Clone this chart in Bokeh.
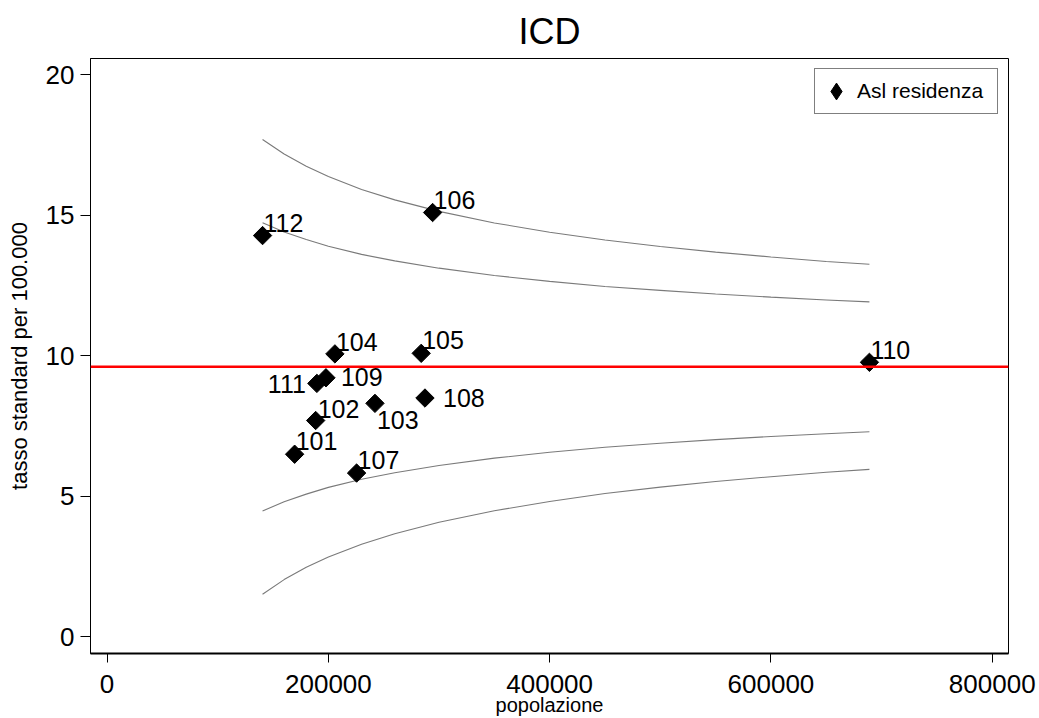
import numpy as np
from bokeh.plotting import figure
from bokeh.models import (Range1d, FixedTicker, NumeralTickFormatter, Span,
                          Legend, LegendItem, ColumnDataSource)
from bokeh.core.properties import value
from bokeh.embed import file_html
from bokeh.resources import INLINE

# ---------------- data ----------------
asl = ["101", "102", "103", "104", "105", "106", "107", "108", "109", "110", "111", "112"]
popolazione = [169500, 188500, 242100, 205900, 283900, 294200, 225500, 287300, 197800, 689000, 189600, 140500]
tasso = [6.49, 7.69, 8.30, 10.06, 10.08, 15.09, 5.82, 8.49, 9.21, 9.76, 9.01, 14.27]

media = 9.6  # red reference line

# funnel limits
pop_grid = [140500, 160000, 180000, 200000, 230000, 260000, 300000, 350000,
            400000, 450000, 500000, 550000, 600000, 650000, 689000]
lim_sup_998 = [17.69, 17.17, 16.74, 16.37, 15.91, 15.54, 15.13, 14.72, 14.39, 14.11, 13.88, 13.68, 13.51, 13.35, 13.25]
lim_sup_95 = [14.73, 14.40, 14.13, 13.89, 13.60, 13.37, 13.11, 12.85, 12.64, 12.46, 12.32, 12.19, 12.08, 11.98, 11.91]
lim_inf_95 = [4.47, 4.80, 5.07, 5.31, 5.60, 5.83, 6.09, 6.35, 6.56, 6.74, 6.88, 7.01, 7.12, 7.22, 7.29]
lim_inf_998 = [1.51, 2.03, 2.47, 2.83, 3.29, 3.66, 4.07, 4.48, 4.81, 5.09, 5.32, 5.52, 5.69, 5.85, 5.95]

x_ticks = [0, 200000, 400000, 600000, 800000]
y_ticks = [0, 5, 10, 15, 20]

# ---------------- label placement (layout, not data) ----------------
label_place = {  # code: (dx px, dy px (down +), align)
    "101": (1, -13, "left"), "102": (2, -12, "left"), "103": (2, 17, "left"),
    "104": (1, -12, "left"), "105": (1, -13, "left"), "106": (1, -13, "left"),
    "107": (1, -13, "left"), "108": (18, 0, "left"), "109": (15, -1, "left"),
    "110": (1, -12, "left"), "111": (-11, 1, "right"), "112": (1, -13, "left"),
}

FONT = "Liberation Sans"

p = figure(width=1039, height=718,
           x_range=Range1d(-15000, 814700), y_range=Range1d(-0.6, 20.57),
           output_backend="svg", toolbar_location=None,
           min_border_left=90, min_border_right=31, min_border_top=58, min_border_bottom=65,
           background_fill_color="white", border_fill_color="white")

p.title.text = "ICD"
p.title.align = "center"
p.title.vertical_align = "top"
p.title.text_font = FONT
p.title.text_font_size = "36px"
p.title.text_font_style = "normal"
p.title.text_color = "black"
p.title.standoff = 10

p.xgrid.grid_line_color = None
p.ygrid.grid_line_color = None
p.outline_line_color = "black"
p.outline_line_width = 1
p.outline_line_alpha = 1

for ax in (p.xaxis[0], p.yaxis[0]):
    ax.axis_line_color = "black"
    ax.major_tick_line_color = "black"
    ax.major_tick_in = 0
    ax.minor_tick_line_color = None
    ax.major_label_text_font = FONT
    ax.major_label_text_color = "black"
    ax.axis_label_text_font = FONT
    ax.axis_label_text_font_style = "normal"
    ax.axis_label_text_color = "black"
    ax.formatter = NumeralTickFormatter(format="0")

p.xaxis[0].ticker = FixedTicker(ticks=x_ticks)
p.yaxis[0].ticker = FixedTicker(ticks=y_ticks)
p.xaxis[0].axis_line_width = 2
p.xaxis[0].major_tick_out = 9
p.xaxis[0].major_label_standoff = 12
p.xaxis[0].major_label_text_font_size = "26px"
p.xaxis[0].axis_label = "popolazione"
p.xaxis[0].axis_label_text_font_size = "20px"
p.xaxis[0].axis_label_standoff = -2

p.yaxis[0].major_tick_out = 10
p.yaxis[0].major_label_standoff = 6
p.yaxis[0].major_label_text_font_size = "26px"
p.yaxis[0].axis_label = "tasso standard per 100.000"
p.yaxis[0].axis_label_text_font_size = "22px"
p.yaxis[0].axis_label_standoff = 11

# funnel curves
for lim in (lim_sup_998, lim_sup_95, lim_inf_95, lim_inf_998):
    p.line(pop_grid, lim, line_color="#7a7a7a", line_width=1.1)

# mean line
p.add_layout(Span(location=media, dimension="width", line_color="red", line_width=2.6))

src = ColumnDataSource(dict(
    x=popolazione, y=tasso, code=asl,
    dx=[label_place[c][0] for c in asl],
    dy=[label_place[c][1] for c in asl],
    align=[label_place[c][2] for c in asl],
))

pts = p.scatter("x", "y", source=src, marker="square", size=13, angle=np.pi / 4,
                fill_color="black", line_color="black")

# legend key: a hidden diamond renderer of the same points (legend keys ignore marker angle)
key = p.scatter("x", "y", source=src, marker="diamond", size=13,
                fill_color="black", line_color="black", visible=False)

p.text("x", "y", text="code", source=src, x_offset="dx", y_offset="dy",
       text_align="align", text_baseline="alphabetic",
       text_font=value(FONT), text_font_size="25px", text_color="black")

legend = Legend(items=[LegendItem(label="Asl residenza", renderers=[key])],
                location="top_right", margin=10, padding=0, spacing=0,
                glyph_width=42, glyph_height=44, label_standoff=0, label_width=140,
                label_text_font=FONT, label_text_font_size="21px", label_text_color="black",
                border_line_color="black", border_line_width=1,
                background_fill_color="white", background_fill_alpha=1,
                inactive_fill_alpha=0, click_policy="none")
p.add_layout(legend)

open("out.html", "w").write(file_html(p, INLINE))
